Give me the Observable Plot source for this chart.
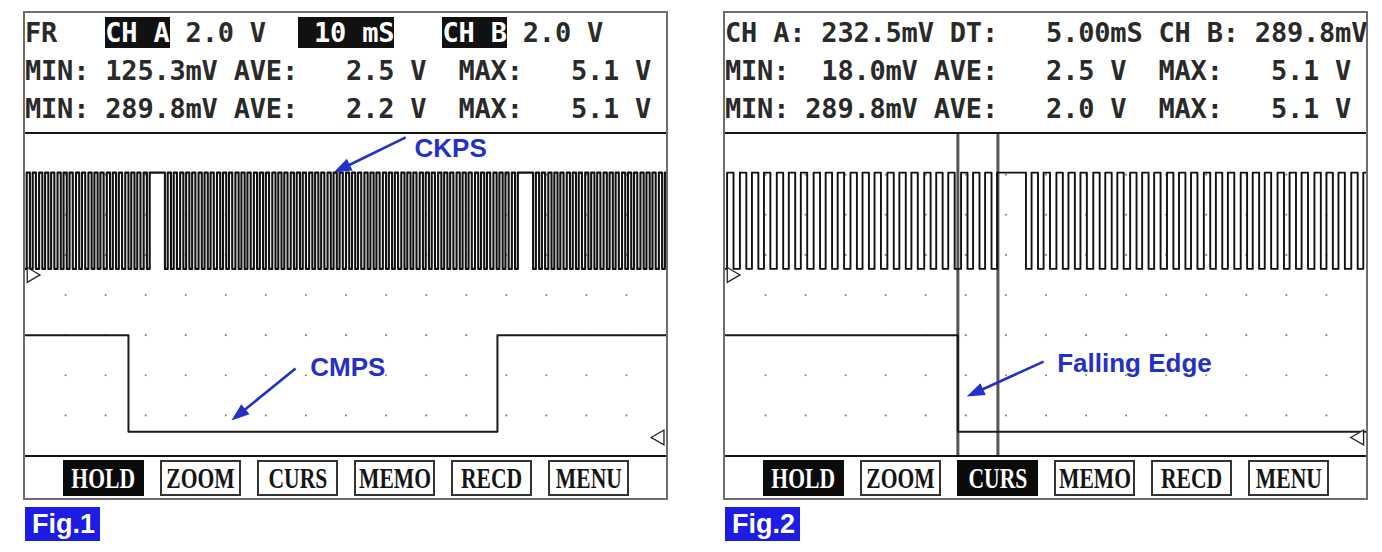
<!DOCTYPE html>
<html><head><meta charset="utf-8">
<script src="https://cdn.jsdelivr.net/npm/d3@7"></script>
<script src="https://cdn.jsdelivr.net/npm/@observablehq/plot@0.6"></script>
<style>
body{margin:0;background:#fff;width:1382px;height:552px;overflow:hidden;position:relative;}
.panel{position:absolute;top:11px;width:645px;height:489px;border:2px solid #6e6e6e;box-sizing:border-box;background:#fff;}
.row{position:absolute;left:0;font-family:"DejaVu Sans Mono",monospace;font-weight:bold;font-size:27px;line-height:27px;letter-spacing:-0.2px;white-space:pre;color:#2a2a2a;}
.hl{background:#111;color:#fff;}
.sep{position:absolute;left:0;width:641px;height:2px;background:#151515;}
.plot{position:absolute;left:0;top:121px;width:641px;height:321px;}
.btn{position:absolute;top:447px;width:81px;height:36px;box-sizing:border-box;border:2px solid #333;background:#fff;display:flex;align-items:center;justify-content:center;overflow:hidden;}
.btn span{font-family:"Liberation Serif",serif;font-weight:bold;font-size:30px;line-height:30px;transform:scaleX(0.72);display:inline-block;color:#151515;}
.btn.on{background:#0b0b0b;border-color:#0b0b0b;}
.btn.on span{color:#fff;}
.fig{position:absolute;top:507px;width:75px;height:34px;background:#1c1ce4;color:#fff;font-family:"Liberation Sans",Arial,sans-serif;font-weight:bold;font-size:27px;line-height:34px;box-sizing:border-box;padding-left:7px;}
</style></head>
<body>
<script>
// ---------------- data ----------------
// CKPS transition times (ms), starting low
const panel1CkpsEdges = [
 0.3,1.1, 1.8,2.6, 3.4,4.2, 4.9,5.7, 6.4,7.2, 8.0,8.8, 9.5,10.3, 11.0,11.8, 12.6,13.4, 14.1,14.9,
 15.7,16.5, 17.2,18.0, 18.7,19.5, 20.3,21.1, 21.8,22.6, 23.3,24.1, 24.9,25.7, 26.4,27.2, 27.9,28.7, 29.5,30.3,
 31.0,34.8,
 35.5,36.3, 37.0,37.8, 38.6,39.4, 40.1,40.9, 41.6,42.4, 43.2,44.0, 44.7,45.5, 46.2,47.0, 47.8,48.6, 49.3,50.1,
 50.8,51.6, 52.4,53.2, 53.9,54.7, 55.4,56.2, 57.0,57.8, 58.5,59.3, 60.0,60.8, 61.6,62.4, 63.1,63.9, 64.6,65.4,
 66.2,67.0, 67.7,68.5, 69.2,70.0, 70.8,71.6, 72.3,73.1, 73.8,74.6, 75.4,76.2, 76.9,77.7, 78.4,79.2, 80.0,80.8,
 81.5,82.3, 83.0,83.8, 84.6,85.4, 86.1,86.9, 87.6,88.4, 89.2,90.0, 90.7,91.5, 92.2,93.0, 93.8,94.6, 95.3,96.1,
 96.8,97.6, 98.4,99.2, 99.9,100.7, 101.4,102.2, 103.0,103.8, 104.5,105.3, 106.0,106.8, 107.6,108.4, 109.1,109.9,
 110.6,111.4, 112.2,113.0, 113.7,114.5, 115.2,116.0, 116.8,117.6, 118.3,119.1, 119.8,120.6, 121.4,122.2,
 122.9,126.7,
 127.4,128.2, 128.9,129.7, 130.5,131.3, 132.0,132.8, 133.5,134.3, 135.1,135.9, 136.6,137.4, 138.1,138.9,
 139.7,140.5, 141.2,142.0, 142.7,143.5, 144.3,145.1, 145.8,146.6, 147.3,148.1, 148.9,149.7, 150.4,151.2,
 151.9,152.7, 153.5,154.3, 155.0,155.8, 156.5,157.3, 158.1,158.9, 159.6
];
const panel2CkpsEdges = [
 0.2,1.0, 1.8,2.6, 3.3,4.1, 4.8,5.6, 6.4,7.2, 7.9,8.7, 9.4,10.2, 11.0,11.8, 12.5,13.3, 14.0,14.8,
 15.6,16.4, 17.1,17.9, 18.6,19.4, 20.2,21.0, 21.7,22.5, 23.2,24.0, 24.8,25.6, 26.3,27.1, 27.8,28.6,
 29.4,30.2, 30.9,31.7, 32.4,33.2,
 33.9,37.5,
 38.2,39.0, 39.7,40.5, 41.3,42.1, 42.8,43.6, 44.3,45.1, 45.9,46.7, 47.4,48.2, 48.9,49.7, 50.5,51.3,
 52.0,52.8, 53.5,54.3, 55.1,55.9, 56.6,57.4, 58.1,58.9, 59.7,60.5, 61.2,62.0, 62.7,63.5, 64.3,65.1,
 65.8,66.6, 67.3,68.1, 68.9,69.7, 70.4,71.2, 71.9,72.7, 73.5,74.3, 75.0,75.8, 76.5,77.3, 78.1,78.9, 79.6
];
// CMPS transition times (ms), starting high
const panel1CmpsEdges = [25.7, 117.8];
const panel2CmpsEdges = [29.0];
const ckpsLevels = [0.3, 5.1];   // low, high (V)
const cmpsLevels = [0.29, 5.1];  // low, high (V)
const panel2Cursors = [29.0, 34.0]; // ms
const panel1GridX = [10,20,30,40,50,60,70,80,90,100,110,120,130,140,150];
const panel2GridX = [5,10,15,20,25,30,35,40,45,50,55,60,65,70,75];
const gridY = [1,2,3,4,5,6,7];
const buttonLabels = ["HOLD","ZOOM","CURS","MEMO","RECD","MENU"];
const panel1Active = ["HOLD"];
const panel2Active = ["HOLD","CURS"];
const panel1Rows = [
  [["FR   ",0],["CH A",1],[" 2.0 V  ",0],[" 10 mS",1],["   ",0],["CH B",1],[" 2.0 V",0]],
  [["MIN: 125.3mV AVE:   2.5 V  MAX:   5.1 V",0]],
  [["MIN: 289.8mV AVE:   2.2 V  MAX:   5.1 V",0]]
];
const panel2Rows = [
  [["CH A: 232.5mV DT:   5.00mS CH B: 289.8mV",0]],
  [["MIN:  18.0mV AVE:   2.5 V  MAX:   5.1 V",0]],
  [["MIN: 289.8mV AVE:   2.0 V  MAX:   5.1 V",0]]
];
const panel1Labels = [{text:"CKPS", t:97.1, d:7.43}, {text:"CMPS", t:71.1, d:1.97}];
const panel1Arrows = [{t1:94.9, d1:7.93, t2:76.9, d2:7.05}, {t1:67.4, d1:2.17, t2:51.4, d2:0.87}];
const panel2Labels = [{text:"Falling Edge", t:41.4, d:2.07}];
const panel2Arrows = [{t1:39.7, d1:2.34, t2:30.1, d2:1.47}];
const figLabels = ["Fig.1", "Fig.2"];

// ---------------- rendering ----------------
const W = 641, H = 321, DIVS = 8, VOLTS_PER_DIV = 2;
const chAGround = 4.5, chBGround = 0.45; // channel ground positions (divisions)
const BLUE = "#2530c8";

function steps(edges, startHigh, levels, tMax) {
  let hi = startHigh;
  const pts = [{t: 0, v: levels[hi]}];
  for (const e of edges) { hi = 1 - hi; pts.push({t: e, v: levels[hi]}); }
  pts.push({t: tMax, v: levels[hi]});
  return pts;
}

const headSymbol = {draw(ctx) { ctx.moveTo(0, 0); ctx.lineTo(-6.5, 18); ctx.lineTo(6.5, 18); ctx.closePath(); }};

function panelPlot(cfg) {
  const pxT = W / cfg.tMax, pxD = H / DIVS;
  const ckps = steps(cfg.ckpsEdges, 0, ckpsLevels, cfg.tMax);
  const cmps = steps(cfg.cmpsEdges, 1, cmpsLevels, cfg.tMax);
  const grid = cfg.gridX.flatMap(x => gridY.map(y => ({x, y})));
  const arrows = cfg.arrows.map(a => {
    const dx = (a.t2 - a.t1) * pxT, dy = -(a.d2 - a.d1) * pxD;
    const len = Math.hypot(dx, dy), f = (len - 14) / len;
    return {...a, te: a.t1 + (a.t2 - a.t1) * f, de: a.d1 + (a.d2 - a.d1) * f,
            angle: Math.atan2(dx, -dy) * 180 / Math.PI};
  });
  return Plot.plot({
    width: W, height: H, margin: 0,
    x: {domain: [0, cfg.tMax], axis: null},
    y: {domain: [0, DIVS], axis: null},
    style: {background: "transparent", overflow: "visible"},
    marks: [
      Plot.dot(grid, {x: "x", y: "y", r: 1.1, fill: "#8a8a8a", stroke: null}),
      Plot.ruleX(cfg.cursors, {stroke: "#555", strokeWidth: 3}),
      Plot.line(cmps, {x: "t", y: d => chBGround + d.v / VOLTS_PER_DIV, curve: "step-after", stroke: "#1a1a1a", strokeWidth: 2, clip: true}),
      Plot.line(ckps, {x: "t", y: d => chAGround + d.v / VOLTS_PER_DIV, curve: "step-after", stroke: "#111", strokeWidth: cfg.ckpsWidth, clip: true}),
      Plot.dot([{t: cfg.markA, d: chAGround}], {x: "t", y: "d", symbol: "triangle", r: 5.5, rotate: 90, fill: "white", stroke: "#222", strokeWidth: 1.3}),
      Plot.dot([{t: cfg.markB, d: chBGround}], {x: "t", y: "d", symbol: "triangle", r: 5.5, rotate: -90, fill: "white", stroke: "#222", strokeWidth: 1.3}),
      Plot.link(arrows, {x1: "t1", y1: "d1", x2: "te", y2: "de", stroke: BLUE, strokeWidth: 2.6}),
      Plot.dot(arrows, {x: "t2", y: "d2", symbol: headSymbol, r: 4, rotate: "angle", fill: BLUE, stroke: null}),
      Plot.text(cfg.labels, {x: "t", y: "d", text: "text", textAnchor: "start", lineAnchor: "bottom",
        fontSize: 26, fontWeight: "bold", fontFamily: "Liberation Sans, Arial, sans-serif", fill: BLUE})
    ]
  });
}

function buildPanel(cfg) {
  const p = document.createElement("div");
  p.className = "panel";
  p.style.left = cfg.left + "px";
  document.body.appendChild(p);
  const rowTops = [5.6, 44.1, 81.6];
  cfg.rows.forEach((segs, i) => {
    const r = document.createElement("div");
    r.className = "row";
    r.style.top = rowTops[i] + "px";
    segs.forEach(([txt, hl]) => {
      const s = document.createElement("span");
      if (hl) s.className = "hl";
      s.textContent = txt;
      r.appendChild(s);
    });
    p.appendChild(r);
  });
  [119, 442].forEach(y => { const s = document.createElement("div"); s.className = "sep"; s.style.top = y + "px"; p.appendChild(s); });
  const holder = document.createElement("div");
  holder.className = "plot";
  holder.appendChild(panelPlot(cfg));
  p.appendChild(holder);
  buttonLabels.forEach((lab, i) => {
    const b = document.createElement("div");
    b.className = "btn" + (cfg.active.includes(lab) ? " on" : "");
    b.style.left = (38 + i * 97) + "px";
    const s = document.createElement("span");
    s.textContent = lab;
    b.appendChild(s);
    p.appendChild(b);
  });
  const f = document.createElement("div");
  f.className = "fig";
  f.style.left = (cfg.left + 2) + "px";
  f.textContent = cfg.fig;
  document.body.appendChild(f);
}

buildPanel({left: 23, tMax: 160, rows: panel1Rows, ckpsEdges: panel1CkpsEdges, cmpsEdges: panel1CmpsEdges,
  gridX: panel1GridX, cursors: [], labels: panel1Labels, arrows: panel1Arrows, active: panel1Active,
  fig: figLabels[0], markA: 1.5, markB: 158.3, ckpsWidth: 2.1});
buildPanel({left: 723, tMax: 80, rows: panel2Rows, ckpsEdges: panel2CkpsEdges, cmpsEdges: panel2CmpsEdges,
  gridX: panel2GridX, cursors: panel2Cursors, labels: panel2Labels, arrows: panel2Arrows, active: panel2Active,
  fig: figLabels[1], markA: 0.75, markB: 79.1, ckpsWidth: 1.9});
</script>
</body></html>
